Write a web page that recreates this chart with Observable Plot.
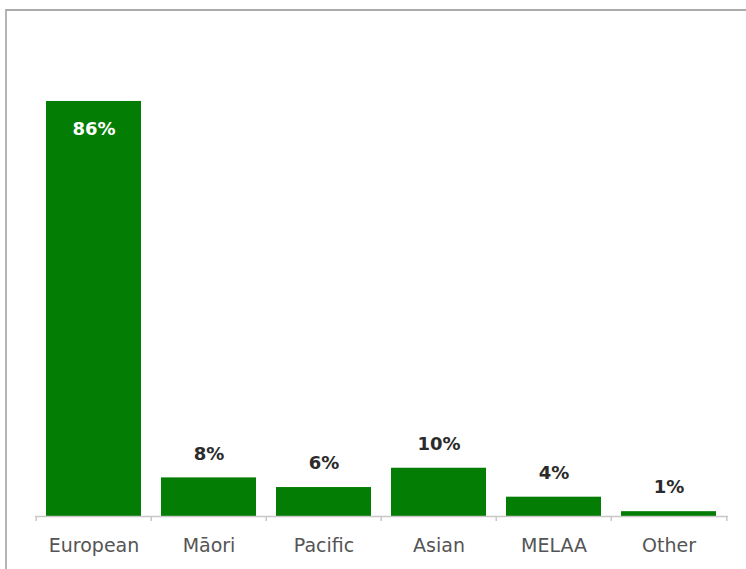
<!DOCTYPE html>
<html>
<head>
<meta charset="utf-8">
<script src="https://cdn.jsdelivr.net/npm/d3@7"></script>
<script src="https://cdn.jsdelivr.net/npm/@observablehq/plot@0.6"></script>
<style>
  html, body { margin: 0; padding: 0; background: #fff; }
  #wrap { position: relative; width: 746px; height: 569px; overflow: hidden; }
  #frame { position: absolute; left: 5px; top: 9px; width: 760px; height: 580px;
           border-top: 2px solid #ababab; border-left: 2px solid #b5b5b5; box-sizing: border-box; }
  #chart { position: absolute; left: 0; top: 0; }
</style>
</head>
<body>
<div id="wrap"><div id="frame"></div><div id="chart"></div></div>
<script>
const categories = ["European", "Māori", "Pacific", "Asian", "MELAA", "Other"];
const values = [86, 8, 6, 10, 4, 1];
const labels = ["86%", "8%", "6%", "10%", "4%", "1%"];

const data = categories.map((c, i) => ({category: c, value: values[i], label: labels[i]}));

const W = 746, H = 569, mL = 35, mR = 18;
const step = (W - mL - mR) / categories.length;

const chart = Plot.plot({
  width: W,
  height: H,
  marginLeft: mL,
  marginRight: mR,
  marginTop: 33.4,
  marginBottom: 53,
  style: {background: "transparent", fontFamily: "DejaVu Sans"},
  x: {domain: categories, paddingInner: 0.17, paddingOuter: 0.085, label: null},
  y: {domain: [0, 100], axis: null},
  marks: [
    Plot.barY(data, {x: "category", y: "value", fill: "#037d03"}),
    Plot.ruleY([0], {stroke: "#c8c8c8", strokeWidth: 1.5}),
    Plot.ruleX(categories, {x: d => d, y1: 0, y2: 0, insetBottom: -5, dx: -step / 2, stroke: "#c8c8c8", strokeWidth: 1.5}),
    Plot.ruleX(categories.slice(-1), {x: d => d, y1: 0, y2: 0, insetBottom: -5, dx: step / 2, stroke: "#c8c8c8", strokeWidth: 1.5}),
    Plot.text(data.filter(d => d.value <= 50), {x: "category", y: "value", text: "label", dy: -24, fill: "#2b2b2b", fontWeight: "bold", fontSize: 18}),
    Plot.text(data.filter(d => d.value > 50), {x: "category", y: "value", text: "label", dy: 28, fill: "#ffffff", fontWeight: "bold", fontSize: 18}),
    Plot.axisX({tickSize: 0, tickPadding: 22, fontSize: 19, fill: "#555", label: null})
  ]
});
document.getElementById("chart").appendChild(chart);
</script>
</body>
</html>
